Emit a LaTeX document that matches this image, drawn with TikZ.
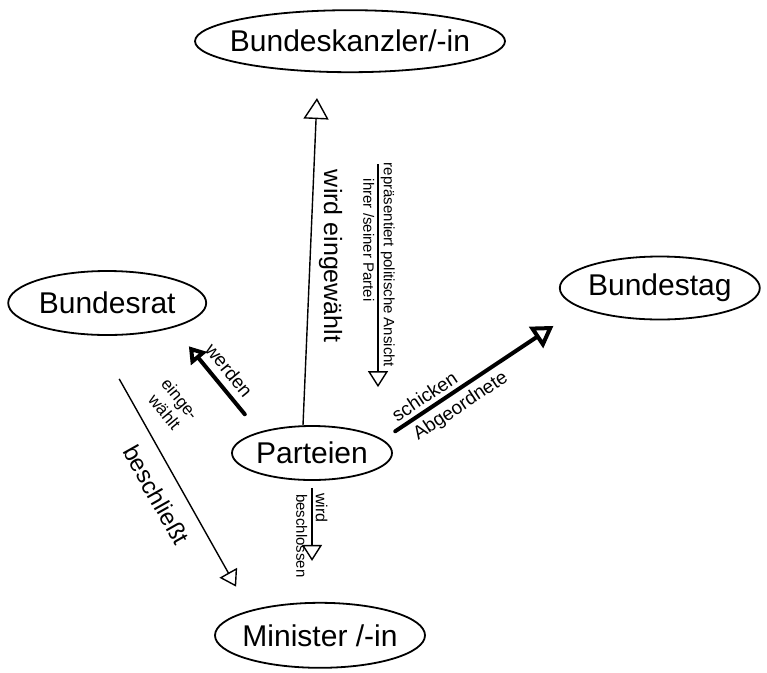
\documentclass[tikz,border=0pt]{standalone}
\usepackage{fontspec}
\setmainfont{Liberation Sans}
\usetikzlibrary{
  arrows.meta,
  positioning,
  shapes,
}
\tikzset{
  >={Triangle[open, length=16pt 0, width=20pt 0]},
  blob/.style={draw, ellipse, line width=1.8pt, inner sep=0pt, font=\fontsize{30}{34}\selectfont},
  thin arrow/.style={->, line width=1.4pt},
  fat arrow/.style={->, line width=4pt, line cap=round},
}
\newcommand{\blobtext}[1]{\makebox[0pt]{#1}}

\begin{document}
\begin{tikzpicture}[node distance=0pt and 0pt]
        \useasboundingbox (0,0) rectangle (767pt,-672pt);

        \node[blob, minimum width=160pt, minimum height=54pt]    (parteien)    at (312pt,-453pt)    {\blobtext{Parteien}};
        \node[blob, minimum width=310pt, minimum height=62pt, xshift=38pt]    (kanzler)    [above=352pt of parteien]    {\blobtext{Bundeskanzler/-in}};
        \node[blob, minimum width=198pt, minimum height=64pt, yshift=150pt]    (rat)    [left=24pt of parteien]    {\blobtext{Bundesrat}};
        \node[blob, minimum width=200pt, minimum height=63pt, yshift=165pt]    (tag)    [right=166pt of parteien]    {\blobtext{Bundestag}};
        \node[blob, minimum width=210pt, minimum height=65pt, xshift=8pt]    (minister)    [below=121pt of parteien]    {\blobtext{Minister /-in}};

        \draw[thin arrow, -{Triangle[open, length=21pt 0, width=25pt 0]}, shorten >=25pt] ([xshift=-9pt]parteien.north) -- ([xshift=-32pt]kanzler.south)
            node[pos=0.48, rotate=-90, anchor=south, inner sep=8pt, font=\fontsize{25}{27}\selectfont] {wird eingewählt};
        \draw[thin arrow, shorten <=91pt, shorten >=38pt] ([xshift=28pt]kanzler.south) -- ([xshift=66pt]parteien.north)
            node[pos=0.545, rotate=-90, anchor=south, inner sep=2pt, font=\fontsize{15}{17}\selectfont] {repräsentiert politische Ansicht}
            node[pos=0.29, rotate=-90, anchor=north west, inner sep=3pt, font=\fontsize{15}{17}\selectfont] {ihrer /seiner Partei};

        \draw[fat arrow] ([shift={(-10pt,19pt)}]parteien.north west) -- ([shift={(11pt,-20pt)}]rat.south east)
            node[midway, sloped, above, inner sep=7pt, font=\fontsize{19}{21}\selectfont] {werden}
            node[pos=0.6, sloped, below=30pt, align=center, inner sep=2pt, font=\fontsize{17}{20}\selectfont] {einge-\\wählt};
        \draw[fat arrow, -{Triangle[open, length=21pt 0, width=25pt 0]}] ([shift={(26pt,2pt)}]parteien.north east) -- ([shift={(-35pt,-15pt)}]tag.south west)
            node[pos=0.23, sloped, above, inner sep=4pt, font=\fontsize{19}{21}\selectfont] {schicken}
            node[pos=0.36, sloped, below, inner sep=5pt, font=\fontsize{19}{21}\selectfont] {Abgeordnete};

        \draw[thin arrow, shorten <=7pt, shorten >=41pt] (parteien.south) -- (parteien.south |- minister.north)
            node[pos=0.07, rotate=-90, anchor=south west, inner sep=3pt, font=\fontsize{16}{18}\selectfont] {wird}
            node[pos=0.07, rotate=-90, anchor=north west, inner sep=4pt, font=\fontsize{15}{17}\selectfont] {beschlossen};
        \draw[thin arrow] ([shift={(12pt,-43pt)}]rat.south) -- ([shift={(-9pt,25pt)}]minister.north west)
            node[midway, sloped, below=12pt, inner sep=3pt, font=\fontsize{24}{26}\selectfont] {beschließt};

    \end{tikzpicture}
\end{document}
